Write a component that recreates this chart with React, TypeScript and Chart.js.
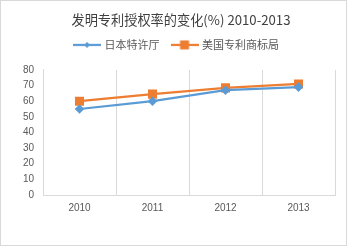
import React, { useEffect, useRef } from "react";
import { Chart, registerables } from "chart.js";

Chart.register(...registerables);

const TITLE = "发明专利授权率的变化(%) 2010-2013";
const years = ["2010", "2011", "2012", "2013"];
const seriesNames = ["日本特许厅", "美国专利商标局"];
const japanValues = [55, 60, 67, 69];
const usValues = [60, 64.5, 68.5, 71];
const yTicks = { min: 0, max: 80, step: 10 };

const BLUE = "#5B9BD5";
const ORANGE = "#ED7D31";
const GRID = "#D9D9D9";
const TEXT = "#595959";

function makeLegendIcon(color: string, style: "rectRot" | "rect"): HTMLCanvasElement {
  const c = document.createElement("canvas");
  c.width = 28;
  c.height = 12;
  const ctx = c.getContext("2d")!;
  ctx.strokeStyle = color;
  ctx.lineWidth = 2.25;
  ctx.beginPath();
  ctx.moveTo(0, 6);
  ctx.lineTo(28, 6);
  ctx.stroke();
  ctx.fillStyle = color;
  ctx.beginPath();
  if (style === "rectRot") {
    ctx.moveTo(14, 3);
    ctx.lineTo(17, 6);
    ctx.lineTo(14, 9);
    ctx.lineTo(11, 6);
    ctx.closePath();
  } else {
    ctx.rect(9.5, 1.5, 9, 9);
  }
  ctx.fill();
  return c;
}

const headerTweaks = {
  id: "headerTweaks",
  beforeLayout(chart: any) {
    const lg = chart.legend;
    if (lg && !lg._spacerPatched) {
      const f = lg.fit;
      lg.fit = function (this: any) {
        f.call(this);
        this.height += 9.5;
      };
      lg._spacerPatched = true;
    }
  },
  afterLayout(chart: any) {
    const t = chart.titleBlock;
    if (t) {
      t.left += 13;
      t.right += 13;
    }
    const lg = chart.legend;
    if (lg) {
      lg.left += 9;
      lg.right += 9;
    }
  },
};

export default function App() {
  const ref = useRef<HTMLCanvasElement | null>(null);

  useEffect(() => {
    if (!ref.current) return;
    const icons = [makeLegendIcon(BLUE, "rectRot"), makeLegendIcon(ORANGE, "rect")];
    const chart = new Chart(ref.current, {
      type: "line",
      data: {
        labels: years,
        datasets: [
          {
            label: seriesNames[0],
            data: japanValues,
            borderColor: BLUE,
            backgroundColor: BLUE,
            borderWidth: 2.25,
            pointStyle: "rectRot",
            pointRadius: 4.8,
            pointBorderWidth: 0,
            pointBackgroundColor: BLUE,
            tension: 0,
          },
          {
            label: seriesNames[1],
            data: usValues,
            borderColor: ORANGE,
            backgroundColor: ORANGE,
            borderWidth: 2.25,
            pointStyle: "rect",
            pointRadius: 6.4,
            pointBorderWidth: 0,
            pointBackgroundColor: ORANGE,
            tension: 0,
          },
        ],
      },
      plugins: [headerTweaks],
      options: {
        animation: false,
        responsive: false,
        devicePixelRatio: 1,
        layout: { padding: { left: 0, right: 11, top: 0, bottom: 0 } },
        plugins: {
          title: {
            display: true,
            text: TITLE,
            color: "#404040",
            font: { family: "'Noto Sans CJK SC', sans-serif", size: 13.2, weight: "normal", lineHeight: 1 },
            padding: { top: 12.2, bottom: 0 },
          },
          legend: {
            display: true,
            position: "top",
            labels: {
              color: TEXT,
              font: { family: "'Noto Sans CJK SC', sans-serif", size: 11 },
              usePointStyle: true,
              pointStyleWidth: 24,
              padding: 13,
              generateLabels: (ch: any) =>
                ch.data.datasets.map((ds: any, i: number) => ({
                  text: ds.label,
                  fillStyle: ds.borderColor,
                  strokeStyle: ds.borderColor,
                  lineWidth: 0,
                  pointStyle: icons[i],
                  hidden: false,
                  datasetIndex: i,
                  fontColor: TEXT,
                })),
            },
          },
          tooltip: { enabled: false },
        },
        scales: {
          x: {
            offset: true,
            grid: { display: true, offset: true, color: GRID, drawTicks: false, lineWidth: 1 },
            border: { display: true, color: GRID },
            ticks: {
              color: TEXT,
              font: { family: "Arial, 'Liberation Sans', sans-serif", size: 10 },
              padding: 7,
              maxRotation: 0,
            },
            afterFit: (s: any) => {
              s.height = 50;
            },
          },
          y: {
            min: yTicks.min,
            max: yTicks.max,
            grid: { display: false, drawTicks: false },
            border: { display: true, color: GRID },
            ticks: {
              stepSize: yTicks.step,
              color: TEXT,
              font: { family: "Arial, 'Liberation Sans', sans-serif", size: 10 },
              padding: 9,
            },
            afterFit: (s: any) => {
              s.width = 42;
            },
          },
        },
      },
    });
    return () => chart.destroy();
  }, []);

  return (
    <div
      style={{
        position: "absolute",
        left: 0,
        top: 0,
        width: 347,
        height: 246,
        boxSizing: "border-box",
        border: "1px solid #D9D9D9",
        background: "#fff",
      }}
    >
      <canvas ref={ref} width={345} height={244} style={{ display: "block", width: 345, height: 244 }} />
    </div>
  );
}
